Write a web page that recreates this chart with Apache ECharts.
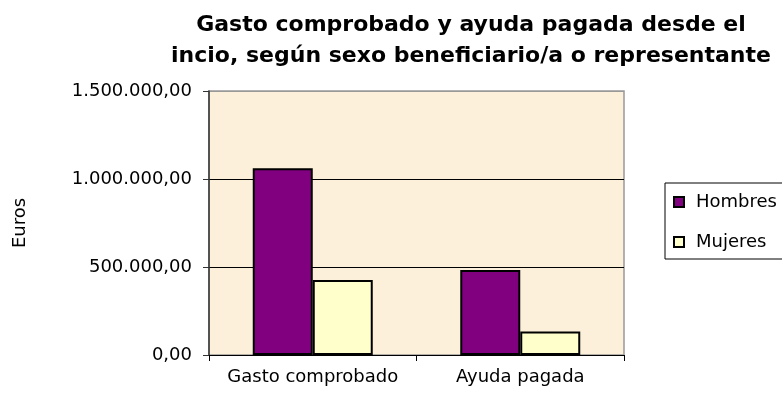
<!DOCTYPE html>
<html>
<head>
<meta charset="utf-8">
<script src="https://cdn.jsdelivr.net/npm/echarts@6/dist/echarts.min.js"></script>
<style>
  html, body { margin: 0; padding: 0; background: #ffffff; }
  #chart { width: 782px; height: 396px; }
</style>
</head>
<body>
<div id="chart"></div>
<script>
// Categories and series values (euros)
const categories = ['Gasto comprobado', 'Ayuda pagada'];
const hombres = [1061000, 483000];
const mujeres = [426000, 133000];
const seriesNames = ['Hombres', 'Mujeres'];
const yTicks = [0, 500000, 1000000, 1500000];

const titleText = 'Gasto comprobado y ayuda pagada desde el\nincio, según sexo beneficiario/a o representante';
const FONT = 'DejaVu Sans';

// Spanish number format: 1.500.000,00
function fmtEuro(v) {
  const parts = Math.round(v).toString().replace(/\B(?=(\d{3})+(?!\d))/g, '.');
  return parts + ',00';
}

const chart = echarts.init(document.getElementById('chart'));
chart.setOption({
  backgroundColor: '#ffffff',
  animation: false,
  title: {
    text: titleText,
    left: 466,
    top: 5,
    textAlign: 'center',
    textStyle: {
      fontFamily: FONT,
      fontWeight: 'bold',
      fontSize: 22,
      lineHeight: 31,
      color: '#000000'
    }
  },
  legend: {
    orient: 'vertical',
    left: 665,
    top: 183,
    padding: [10, 40, 8, 8],
    itemWidth: 10,
    itemHeight: 10,
    itemGap: 22,
    borderColor: '#000000',
    borderWidth: 1,
    icon: 'rect',
    textStyle: {
      fontFamily: FONT,
      fontSize: 18,
      color: '#000000',
      padding: [0, 0, 0, 7]
    },
    data: seriesNames
  },
  grid: {
    left: 209,
    top: 91,
    width: 415,
    height: 264,
    show: true,
    backgroundColor: '#FCF0DA',
    borderColor: '#999999',
    borderWidth: 1.5
  },
  xAxis: {
    type: 'category',
    data: categories,
    axisLine: { lineStyle: { color: '#000000', width: 1 } },
    axisTick: { show: true, length: 6, lineStyle: { color: '#000000' } },
    axisLabel: {
      interval: 0,
      fontFamily: FONT,
      fontSize: 18,
      color: '#000000',
      margin: 13
    }
  },
  yAxis: {
    type: 'value',
    min: yTicks[0],
    max: yTicks[yTicks.length - 1],
    interval: yTicks[1] - yTicks[0],
    name: 'Euros',
    nameLocation: 'middle',
    nameGap: 180,
    nameTextStyle: {
      fontFamily: FONT,
      fontSize: 18,
      color: '#000000'
    },
    axisLine: { show: true, lineStyle: { color: '#333333', width: 1.5 } },
    axisTick: { show: true, length: 6, lineStyle: { color: '#333333' } },
    axisLabel: {
      fontFamily: FONT,
      fontSize: 18,
      color: '#000000',
      margin: 17,
      formatter: fmtEuro
    },
    splitLine: {
      show: true,
      lineStyle: { color: ['#000000', '#000000', '#000000', '#999999'], width: 1 }
    }
  },
  series: [
    {
      name: seriesNames[0],
      type: 'bar',
      data: hombres,
      barWidth: 60,
      barGap: '0%',
      itemStyle: { color: '#800080', borderColor: '#000000', borderWidth: 2 }
    },
    {
      name: seriesNames[1],
      type: 'bar',
      data: mujeres,
      barWidth: 60,
      barGap: '0%',
      itemStyle: { color: '#FFFFCC', borderColor: '#000000', borderWidth: 2 }
    }
  ]
});
</script>
</body>
</html>
